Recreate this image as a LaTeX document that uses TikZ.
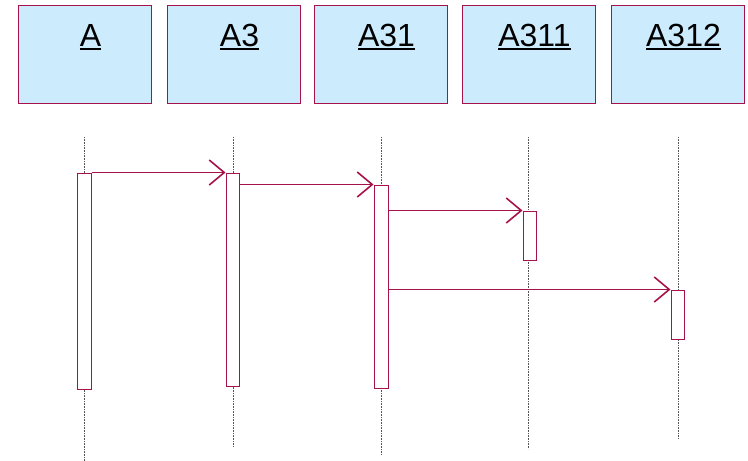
\documentclass[tikz,border=0pt]{standalone}
\usepackage{fontspec}
\setmainfont{Liberation Sans}
\usetikzlibrary{arrows.meta}
\definecolor{crim}{HTML}{A8124A}
\definecolor{boxfill}{HTML}{CCEBFD}
\definecolor{lifegray}{HTML}{555555}
\newcommand\ulab[1]{\setbox0\hbox{#1}\leavevmode\rlap{\rule[-4.3pt]{\wd0}{2.4pt}}\box0}
\tikzset{
  objbox/.style={draw=crim, line width=0.9pt, fill=boxfill, minimum width=133pt, minimum height=98pt, inner sep=0pt},
  objlabel/.style={anchor=base, inner sep=0pt, font=\fontsize{32}{36}\selectfont},
  lifeline/.style={draw=lifegray, line width=0.6pt, dash pattern=on 1pt off 0.6pt},
  actbar/.style={draw=crim, line width=1pt, fill=white, inner sep=0pt},
  msg/.style={draw=crim, line width=0.9pt, -{Straight Barb[length=15pt, width=25pt, line width=1.6pt]}}
}
\begin{document}
\begin{tikzpicture}[x=1pt, y=-1pt]
\useasboundingbox (0,0) rectangle (748,461);
% boxes
\node[objbox] (bA)    at (84.5,54) {};
\node[objbox] (bA3)   at (233.5,54) {};
\node[objbox] (bA31)  at (380.5,54) {};
\node[objbox] (bA311) at (528.5,54) {};
\node[objbox] (bA312) at (677.5,54) {};
\node[objlabel] (tA)    at (90.5,46) {\ulab{A}};
\node[objlabel] (tA3)   at (239.5,46) {\ulab{A3}};
\node[objlabel] (tA31)  at (386.5,46) {\ulab{A31}};
\node[objlabel] (tA311) at (534.5,46) {\ulab{A311}};
\node[objlabel] (tA312) at (683.5,46) {\ulab{A312}};
% lifelines
\coordinate (lA1) at (84.5,137);   \coordinate (lA2) at (84.5,461);
\coordinate (lB1) at (233,137);    \coordinate (lB2) at (233,446);
\coordinate (lC1) at (381,137);    \coordinate (lC2) at (381,455);
\coordinate (lD1) at (528.5,137);  \coordinate (lD2) at (528.5,449);
\coordinate (lE1) at (678,137);    \coordinate (lE2) at (678,438);
\draw[lifeline] (lA1) -- (lA2);
\draw[lifeline] (lB1) -- (lB2);
\draw[lifeline] (lC1) -- (lC2);
\draw[lifeline] (lD1) -- (lD2);
\draw[lifeline] (lE1) -- (lE2);
% activation bars
\node[actbar, minimum width=14pt, minimum height=216pt] (aA)    at (84,281) {};
\node[actbar, minimum width=13pt, minimum height=213pt] (aA3)   at (232.5,279.5) {};
\node[actbar, minimum width=14pt, minimum height=203pt] (aA31)  at (381,286.5) {};
\node[actbar, minimum width=13pt, minimum height=49pt]  (aA311) at (529.5,235.5) {};
\node[actbar, minimum width=13pt, minimum height=49pt]  (aA312) at (677.5,314.5) {};
% messages
\draw[msg] (aA.north east) -- (aA3.north west);
\draw[msg] (aA31.north west -| aA3.east) -- (aA31.north west);
\draw[msg] (aA311.north west -| aA31.east) -- (aA311.north west);
\draw[msg] (aA312.north west -| aA31.east) -- (aA312.north west);
\end{tikzpicture}
\end{document}
